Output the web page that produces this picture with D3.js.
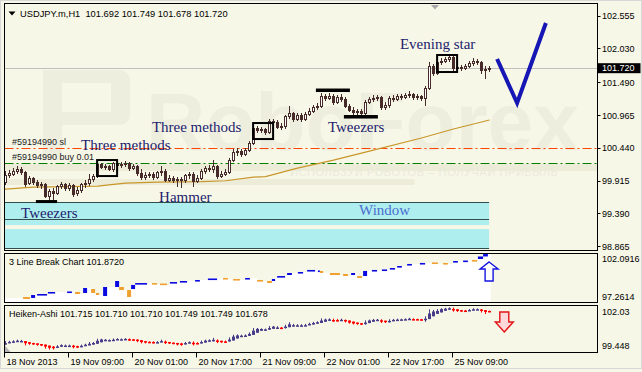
<!DOCTYPE html>
<html>
<head>
<meta charset="utf-8">
<script src="https://cdn.jsdelivr.net/npm/d3@7"></script>
<style>
html, body { margin: 0; padding: 0; background: #f7f7e7; }
svg { display: block; }
text { font-family: "Liberation Sans", Arial, sans-serif; }
.pre { white-space: pre; }
.serif { font-family: "Liberation Serif", "Times New Roman", serif; }
</style>
</head>
<body>
<div id="chart"></div>
<script>
// ---- data ----
// hourly candles, [open, high, low, close], one per bar from 18 Nov 2013
var ohlc = [
  [99.899,100.075,99.867,100.011],[100.011,100.091,99.979,100.043],[100.027,100.123,100.011,100.075],[100.075,100.155,100.043,100.107],
  [100.107,100.139,100.027,100.059],[100.059,100.075,99.835,99.867],[99.883,99.995,99.867,99.963],[99.963,99.979,99.867,99.899],
  [99.899,99.931,99.819,99.851],[99.851,99.899,99.803,99.867],[99.867,99.883,99.659,99.675],[99.675,99.787,99.611,99.755],
  [99.755,99.803,99.611,99.723],[99.723,99.851,99.707,99.835],[99.835,99.899,99.803,99.867],[99.867,99.883,99.771,99.803],
  [99.803,99.883,99.771,99.851],[99.851,99.867,99.675,99.707],[99.723,99.819,99.691,99.771],[99.771,99.883,99.739,99.867],
  [99.867,99.931,99.819,99.883],[99.883,100.027,99.851,99.947],[99.947,100.027,99.915,99.995],[99.995,100.203,99.979,100.187],
  [100.187,100.203,100.123,100.139],[100.139,100.187,100.107,100.155],[100.155,100.171,100.091,100.107],[100.107,100.219,100.075,100.203],
  [100.203,100.235,100.139,100.171],[100.171,100.219,100.139,100.187],[100.187,100.235,100.155,100.203],[100.203,100.219,100.091,100.123],
  [100.123,100.187,100.107,100.155],[100.155,100.171,100.011,100.043],[100.043,100.107,99.947,99.979],[99.979,100.059,99.947,100.011],
  [100.011,100.059,99.979,100.027],[100.027,100.059,99.947,99.979],[99.979,100.075,99.963,100.059],[100.059,100.155,100.011,100.075],
  [100.075,100.107,99.915,99.931],[99.931,100.011,99.915,99.963],[99.963,99.995,99.899,99.931],[99.931,99.979,99.835,99.947],
  [99.947,99.979,99.819,99.931],[99.931,100.027,99.899,100.011],[100.011,100.059,99.963,100.027],[100.027,100.059,99.835,99.915],
  [99.915,100.011,99.899,99.963],[99.963,100.107,99.947,100.075],[100.075,100.155,100.043,100.123],[100.123,100.171,100.075,100.107],
  [100.107,100.251,100.059,100.155],[100.155,100.171,99.963,99.995],[99.995,100.075,99.979,100.027],[100.027,100.107,100.011,100.059],
  [100.059,100.283,100.043,100.251],[100.251,100.427,100.235,100.379],[100.379,100.443,100.331,100.395],[100.395,100.427,100.315,100.347],
  [100.347,100.443,100.331,100.411],[100.411,100.555,100.395,100.523],[100.523,100.795,100.507,100.763],[100.763,100.795,100.699,100.731],
  [100.731,100.779,100.699,100.747],[100.747,100.763,100.667,100.699],[100.699,100.907,100.683,100.875],[100.875,100.907,100.827,100.859],
  [100.859,100.891,100.763,100.779],[100.779,100.843,100.747,100.795],[100.795,100.971,100.763,100.955],[100.955,101.115,100.923,101.003],
  [101.003,101.019,100.875,100.907],[100.907,101.003,100.891,100.971],[100.971,101.003,100.875,100.907],[100.907,101.019,100.891,100.987],
  [100.987,101.083,100.971,101.035],[101.035,101.131,101.019,101.099],[101.099,101.163,101.067,101.115],[101.115,101.323,101.099,101.275],
  [101.275,101.307,101.211,101.243],[101.243,101.323,101.227,101.275],[101.275,101.307,101.147,101.179],[101.179,101.291,101.163,101.259],
  [101.259,101.307,101.195,101.227],[101.227,101.259,101.099,101.115],[101.115,101.147,101.035,101.051],[101.051,101.099,100.987,101.019],
  [101.019,101.067,100.971,101.035],[101.035,101.067,100.955,101.003],[101.003,101.211,100.971,101.179],[101.179,101.259,101.163,101.227],
  [101.227,101.291,101.195,101.243],[101.243,101.291,101.211,101.259],[101.259,101.275,101.067,101.099],[101.099,101.179,101.067,101.131],
  [101.131,101.275,101.099,101.243],[101.243,101.291,101.195,101.227],[101.227,101.307,101.211,101.275],[101.275,101.307,101.227,101.259],
  [101.259,101.323,101.243,101.291],[101.291,101.355,101.259,101.307],[101.307,101.323,101.227,101.259],[101.259,101.307,101.227,101.275],
  [101.275,101.291,101.211,101.243],[101.243,101.435,101.131,101.403],[101.403,101.819,101.387,101.755],[101.755,101.787,101.611,101.643],
  [101.643,101.835,101.627,101.819],[101.819,101.883,101.787,101.835],[101.835,101.899,101.819,101.867],[101.867,101.931,101.835,101.899],
  [101.899,101.915,101.691,101.723],[101.723,101.771,101.675,101.739],[101.739,101.771,101.691,101.723],[101.723,101.787,101.707,101.755],
  [101.755,101.835,101.739,101.803],[101.803,101.883,101.771,101.835],[101.835,101.867,101.787,101.819],[101.819,101.835,101.643,101.691],
  [101.691,101.755,101.563,101.707],[101.692,101.749,101.678,101.720]
];

// moving average, [bar, value]
var maLine = [[-0.4,99.787],[0,99.787],[7,99.819],[23,99.835],[30,99.883],[38,99.899],[49,99.907],[55,99.92],
  [62,99.979],[65,99.987],[73,100.123],[82,100.251],[90,100.379],[104,100.603],[112,100.747],[121,100.891]];

// 3 line break bricks: [fromBar, toBar, high, low, up?]
var bricks = [
  [4.4,6.1,97.80,97.61,0],[6.4,7.4,98.00,97.71,1],[7.9,10.4,98.10,98.00,1],[10.6,12.4,98.30,98.20,1],
  [15.4,16.6,98.35,98.25,1],[17.4,18.6,98.30,98.10,0],[19.4,20.4,98.69,98.20,1],[21.4,22.4,98.59,98.20,0],
  [22.6,23.4,98.20,98.00,0],[24.4,25.4,98.79,97.90,1],[27.4,28.4,99.38,98.79,1],[28.4,29.6,98.79,98.49,0],
  [30.4,31.4,98.49,97.80,0],[31.4,32.4,98.99,98.59,1],[32.4,35.4,99.18,99.09,1],[36.6,37.9,99.18,99.09,0],
  [38.6,40.4,99.13,98.99,0],[41.1,42.9,99.28,99.18,1],[43.6,45.4,99.38,99.28,1],[47.4,48.6,99.48,99.33,1],
  [50.6,52.9,99.63,99.53,1],[54.4,55.6,99.68,99.58,0],[56.9,58.6,99.58,99.48,0],[59.9,61.1,99.68,99.58,1],
  [62.9,64.4,99.48,99.38,0],[65.4,66.6,99.38,99.18,0],[66.6,67.4,99.58,99.38,1],[67.9,69.9,99.87,99.78,1],
  [70.4,71.6,100.17,99.97,1],[73.1,74.4,100.27,100.17,1],[75.4,77.4,100.47,100.37,1],[78.1,78.6,100.42,100.32,1],
  [78.6,79.4,100.37,100.17,0],[81.1,83.6,100.17,99.97,0],[84.4,85.6,100.07,99.87,0],[86.4,87.4,100.17,99.97,1],
  [87.9,89.1,99.87,99.68,0],[89.4,90.4,100.37,99.87,1],[91.6,92.9,100.47,100.37,1],[94.1,95.4,100.52,100.42,1],
  [96.1,97.4,100.66,100.56,1],[97.9,99.1,100.86,100.76,1],[100.4,101.6,101.06,100.96,1],[103.6,104.9,101.16,101.06,1],
  [106.6,108.1,101.21,101.06,0],[109.4,110.6,101.16,101.06,0],[111.9,113.1,101.35,101.25,1],[114.4,115.6,101.40,101.30,1],
  [116.6,117.9,101.45,101.35,0],[118.1,119.4,101.80,101.55,1],[119.4,120.6,102.04,101.80,1]
];

var timeLabels = ["18 Nov 2013", "19 Nov 09:00", "20 Nov 01:00", "20 Nov 17:00",
                  "21 Nov 09:00", "22 Nov 01:00", "22 Nov 17:00", "25 Nov 09:00"];
var timeBars = [0, 16, 32, 48, 64, 80, 96, 112];
var priceTicks = [102.555, 102.030, 101.490, 100.965, 100.440, 99.915, 99.390, 98.865];
var lastPrice = 101.720;
var slPrice = 100.44, buyPrice = 100.20;

// pattern annotations: boxes [fromBar, toBar, high, low]
var patternBoxes = [[22.9, 27.9, 100.251, 99.995], [61.9, 66.9, 100.843, 100.587], [107.9, 112.9, 101.931, 101.659]];
// tweezers bars [fromBar, toBar, high, low]
var tweezerBars = [[7.6, 12.9, 99.611, 99.563], [77.6, 86.1, 101.395, 101.339], [84.6, 93.1, 100.971, 100.915]];
// labels [text, bar, price at baseline]
var patternLabels = [["Evening star", 98.6, 102.027], ["Three methods", 36.6, 100.699], ["Three methods", 18.9, 100.411],
  ["Tweezers", 80.6, 100.699], ["Tweezers", 3.9, 99.323], ["Hammer", 38.4, 99.579]];
var windowLabel = ["Window", 88.4, 99.371];
// forecast path [bar, price]
var forecast = [[122.9, 101.867], [127.9, 101.163], [135.1, 102.443]];
// window zones [high, low]
var windowZones = [[99.579, 99.299], [99.291, 99.211], [99.147, 98.843]];

// ---- layout ----
var W = 642, H = 372;
var left = 4.5, right = 597.5;
var mainTop = 3.5, mainBottom = 250.5;
var lbTop = 253.5, lbBottom = 302.5;
var haTop = 305.5, haBottom = 352.5;

var dark = "#472a2a";

var x = d3.scaleLinear().domain([0, 121]).range([5.5, 489.5]);
var y = d3.scaleLinear().domain([98.865, 102.555]).range([246.7, 16]);
var yLb = d3.scaleLinear().domain([97.2614, 102.0916]).range([lbBottom, lbTop]);
var yHa = d3.scaleLinear().domain([99.448, 102.03]).range([haBottom, haTop]);

function snap(v) { return Math.round(v - 0.5) + 0.5; }

var svg = d3.select("#chart").append("svg").attr("width", W).attr("height", H);
svg.append("rect").attr("width", W).attr("height", H).attr("fill", "#f7f7e7");

// clip for main pane
var defs = svg.append("defs");
defs.append("clipPath").attr("id", "mainClip").append("rect")
  .attr("x", left).attr("y", mainTop).attr("width", right - left).attr("height", mainBottom - mainTop);

var mainG = svg.append("g").attr("clip-path", "url(#mainClip)");

// watermark
var wm = "#eeeedf";
mainG.append("path")
  .attr("d", "M43,160 V70 H118 Q130,70 130,82 V113 Q130,125 118,125 H62 V160 Z M62,83 V112 H111 V83 Z")
  .attr("fill", wm).attr("fill-rule", "evenodd");
mainG.append("text").attr("x", 146).attr("y", 150)
  .attr("font-size", 82).attr("font-weight", "bold").attr("fill", wm)
  .text("RoboForex");
mainG.append("rect").attr("x", left).attr("y", 164).attr("width", right - left).attr("height", 7).attr("fill", "#ececd8");
mainG.append("rect").attr("x", left).attr("y", 179).attr("width", 410).attr("height", 6).attr("fill", "#ececd8");
mainG.append("text").attr("x", 290).attr("y", 176).attr("font-size", 11).attr("fill", "#eaeadb")
  .attr("letter-spacing", 0.6).text("ИСПОЛЬЗУЙ РОБОТОВ – ПОЛУЧАЙ ПРИБЫЛЬ");

// window zones
windowZones.forEach(function (z) {
  mainG.append("rect").attr("x", left).attr("width", x(120.9) - left)
    .attr("y", y(z[0])).attr("height", y(z[1]) - y(z[0])).attr("fill", "#afeeee");
});
[windowZones[0][0], windowZones[0][1], windowZones[2][1]].forEach(function (v) {
  mainG.append("line").attr("x1", left).attr("x2", x(120.9))
    .attr("y1", snap(y(v))).attr("y2", snap(y(v))).attr("stroke", "#2f4f4f");
});

// current price line
mainG.append("line").attr("x1", left).attr("x2", right)
  .attr("y1", snap(y(lastPrice))).attr("y2", snap(y(lastPrice))).attr("stroke", "#c0c0c0");

// order lines
mainG.append("line").attr("x1", left).attr("x2", right)
  .attr("y1", snap(y(slPrice))).attr("y2", snap(y(slPrice)))
  .attr("stroke", "#ff4500").attr("stroke-dasharray", "9,3,2,3");
mainG.append("line").attr("x1", left).attr("x2", right)
  .attr("y1", snap(y(buyPrice))).attr("y2", snap(y(buyPrice)))
  .attr("stroke", "#008000").attr("stroke-dasharray", "9,3,2,3");
mainG.append("text").attr("x", 12).attr("y", y(slPrice) - 3).attr("font-size", 9).attr("fill", "#222")
  .text("#59194990 sl");
mainG.append("text").attr("x", 12).attr("y", y(buyPrice) - 3).attr("font-size", 9).attr("fill", "#222")
  .text("#59194990 buy 0.01");

// moving average
mainG.append("path").datum(maLine)
  .attr("d", d3.line().x(function (d) { return x(d[0]); }).y(function (d) { return y(d[1]); }))
  .attr("fill", "none").attr("stroke", "#c8962a").attr("stroke-width", 1.2);

// candles
var candle = mainG.selectAll("g.candle").data(ohlc).enter().append("g").attr("class", "candle");
candle.append("line")
  .attr("x1", function (d, i) { return x(i); }).attr("x2", function (d, i) { return x(i); })
  .attr("y1", function (d) { return Math.round(y(d[1])); })
  .attr("y2", function (d) { return Math.round(y(d[2])) + 1; })
  .attr("stroke", dark);
candle.append("rect")
  .attr("x", function (d, i) { return x(i) - 1; })
  .attr("width", 2)
  .attr("y", function (d) { return snap(y(Math.max(d[0], d[3]))); })
  .attr("height", function (d) {
    return Math.max(snap(y(Math.min(d[0], d[3]))) - snap(y(Math.max(d[0], d[3]))), 0);
  })
  .attr("fill", function (d) { return d[3] >= d[0] ? "#ffffff" : dark; })
  .attr("stroke", dark);

// pattern boxes
patternBoxes.forEach(function (b) {
  mainG.append("rect").attr("x", x(b[0])).attr("width", x(b[1]) - x(b[0]))
    .attr("y", y(b[2])).attr("height", y(b[3]) - y(b[2]))
    .attr("fill", "none").attr("stroke", "#000").attr("stroke-width", 2);
});
tweezerBars.forEach(function (b) {
  mainG.append("rect").attr("x", x(b[0])).attr("width", x(b[1]) - x(b[0]))
    .attr("y", y(b[2])).attr("height", y(b[3]) - y(b[2])).attr("fill", "#000");
});
patternLabels.forEach(function (l) {
  mainG.append("text").attr("class", "serif").attr("x", x(l[1])).attr("y", y(l[2]))
    .attr("font-size", 15).attr("fill", "#1c1c6e").text(l[0]);
});
mainG.append("text").attr("class", "serif").attr("x", x(windowLabel[1])).attr("y", y(windowLabel[2]))
  .attr("font-size", 15).attr("fill", "#4a6fd0").text(windowLabel[0]);

// forecast V
mainG.append("path").datum(forecast)
  .attr("d", d3.line().x(function (d) { return x(d[0]); }).y(function (d) { return y(d[1]); }))
  .attr("fill", "none").attr("stroke", "#1616b4").attr("stroke-width", 4).attr("stroke-linejoin", "miter");

// header
mainG.append("path").attr("d", "M8.5,11.5 H15.5 L12,15.5 Z").attr("fill", "#000");
mainG.append("text").attr("class", "pre").attr("x", 20).attr("y", 16.5).attr("font-size", 9.3).attr("fill", "#000")
  .text("USDJPY.m,H1  101.692 101.749 101.678 101.720");
mainG.append("path").attr("d", "M431,5 H439 L435,9.5 Z").attr("fill", "#a8a8a8");

// main pane right axis
priceTicks.forEach(function (p) {
  svg.append("line").attr("x1", right).attr("x2", right + 3).attr("y1", snap(y(p))).attr("y2", snap(y(p))).attr("stroke", "#000");
  svg.append("text").attr("x", 602).attr("y", y(p)).attr("dy", "0.35em").attr("font-size", 9).attr("fill", "#000")
    .text(d3.format(".3f")(p));
});
svg.append("rect").attr("x", right).attr("y", y(lastPrice) - 5).attr("width", 43).attr("height", 10).attr("fill", "#000");
svg.append("text").attr("x", 602).attr("y", y(lastPrice)).attr("dy", "0.35em").attr("font-size", 9).attr("fill", "#fff")
  .text(d3.format(".3f")(lastPrice));

// ---- 3 line break pane ----
var lbG = svg.append("g");
var lbLevels = [[-0.4, 97.70]].concat(bricks.map(function (b) { return [b[0], b[4] ? b[2] : b[3]]; }));
lbLevels.push([121.3, lbLevels[lbLevels.length - 1][1]]);
lbG.append("path").datum(lbLevels)
  .attr("d", d3.area().curve(d3.curveStepAfter)
    .x(function (d) { return x(d[0]); }).y0(lbBottom).y1(function (d) { return yLb(d[1]); }))
  .attr("fill", "#ffffff");
lbG.selectAll("rect.brick").data(bricks).enter().append("rect").attr("class", "brick")
  .attr("x", function (d) { return x(d[0]); })
  .attr("width", function (d) { return x(d[1]) - x(d[0]); })
  .attr("y", function (d) { return yLb(d[2]); })
  .attr("height", function (d) { return Math.max(yLb(d[3]) - yLb(d[2]), 1.6); })
  .attr("fill", function (d) { return d[4] ? "#0a0ae0" : "#f0a030"; });
// up arrow
var ua = x(120.9), ub = yLb(101.254);
lbG.append("path")
  .attr("d", "M" + ua + "," + ub + " L" + (ua + 9) + "," + (ub + 7) + " H" + (ua + 4) + " V" + (ub + 19) +
    " H" + (ua - 4) + " V" + (ub + 7) + " H" + (ua - 9) + " Z")
  .attr("fill", "#fff").attr("stroke", "#1414e0").attr("stroke-width", 1.4);
lbG.append("text").attr("x", 9).attr("y", 265).attr("font-size", 9).attr("fill", "#000").text("3 Line Break Chart 101.8720");
svg.append("text").attr("x", 602).attr("y", 259).attr("dy", "0.35em").attr("font-size", 9).text("102.0916");
svg.append("text").attr("x", 602).attr("y", 297).attr("dy", "0.35em").attr("font-size", 9).text("97.2614");

// ---- Heiken-Ashi pane ----
var ha = [];
ohlc.forEach(function (d, i) {
  var c = (d[0] + d[1] + d[2] + d[3]) / 4;
  var o = i === 0 ? (d[0] + d[3]) / 2 : (ha[i - 1].o + ha[i - 1].c) / 2;
  ha.push({ o: o, c: c, h: Math.max(d[1], o, c), l: Math.min(d[2], o, c) });
});
var haG = svg.append("g");
var haBar = haG.selectAll("g.ha").data(ha).enter().append("g").attr("class", "ha");
function haColor(d) { return d.c >= d.o ? "#483d8b" : "#ff0000"; }
haBar.append("line")
  .attr("x1", function (d, i) { return x(i); }).attr("x2", function (d, i) { return x(i); })
  .attr("y1", function (d) { return yHa(d.h); }).attr("y2", function (d) { return yHa(d.l); })
  .attr("stroke", haColor);
haBar.append("rect")
  .attr("x", function (d, i) { return x(i) - 1.5; }).attr("width", 3)
  .attr("y", function (d) { return yHa(Math.max(d.o, d.c)); })
  .attr("height", function (d) { return Math.max(Math.abs(yHa(d.o) - yHa(d.c)), 1.5); })
  .attr("fill", haColor);
var da = x(124.7), db = yHa(100.574);
haG.append("path")
  .attr("d", "M" + da + "," + db + " L" + (da + 9) + "," + (db - 10) + " H" + (da + 4.5) + " V" + (db - 20) +
    " H" + (da - 4.5) + " V" + (db - 10) + " H" + (da - 9) + " Z")
  .attr("fill", "#ffd9d9").attr("stroke", "#e01414").attr("stroke-width", 1.4);
haG.append("path").attr("d", "M4.5,345 L11,352.5 H4.5 Z").attr("fill", "#b4b4b4");
haG.append("text").attr("x", 9).attr("y", 317).attr("font-size", 9).attr("fill", "#000")
  .text("Heiken-Ashi 101.715 101.710 101.710 101.749 101.749 101.678");
svg.append("text").attr("x", 602).attr("y", 312).attr("dy", "0.35em").attr("font-size", 9).text("102.03");
svg.append("text").attr("x", 602).attr("y", 346).attr("dy", "0.35em").attr("font-size", 9).text("99.448");

// ---- pane borders ----
[[mainTop, mainBottom], [lbTop, lbBottom], [haTop, haBottom]].forEach(function (p) {
  svg.append("rect").attr("x", left).attr("y", p[0]).attr("width", right - left).attr("height", p[1] - p[0])
    .attr("fill", "none").attr("stroke", "#000");
});

// ---- time axis ----
timeBars.forEach(function (b, k) {
  var tx = x(b) - 1;
  svg.append("line").attr("x1", tx).attr("x2", tx).attr("y1", haBottom).attr("y2", haBottom + 5).attr("stroke", "#000");
  svg.append("text").attr("x", tx + 2).attr("y", 365).attr("font-size", 9).attr("fill", "#000").text(timeLabels[k]);
});

// window frame
svg.append("rect").attr("x", 0.5).attr("y", 0.5).attr("width", W - 1).attr("height", 368)
  .attr("fill", "none").attr("stroke", "#d8d8d8");
</script>
</body>
</html>
